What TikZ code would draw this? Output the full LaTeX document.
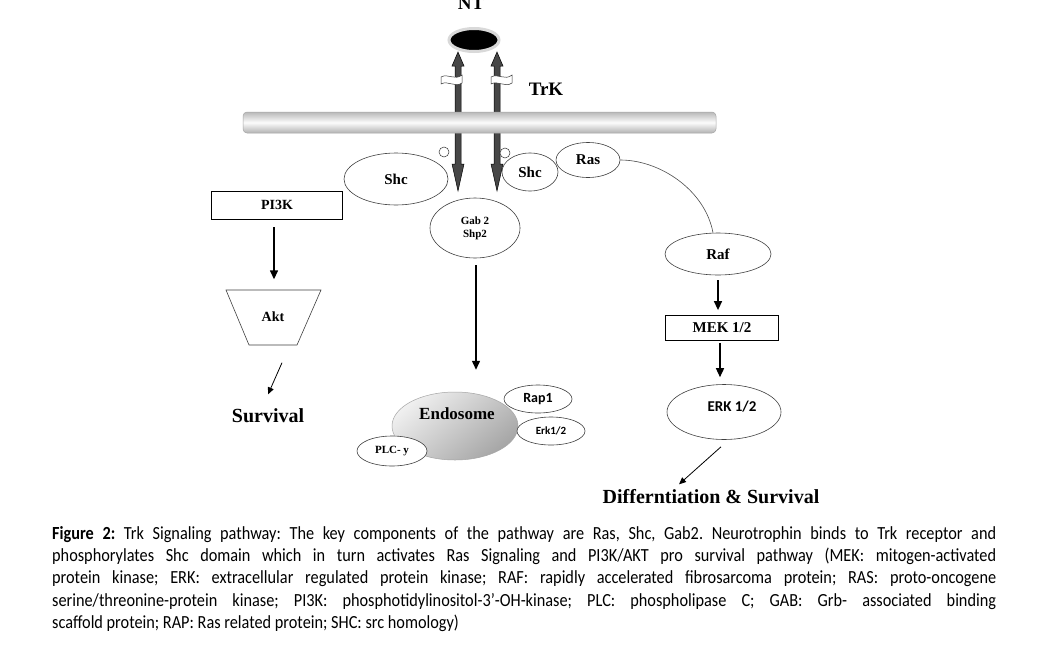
\documentclass[tikz,border=0pt]{standalone}
\usepackage{fontspec}
\setmainfont{Liberation Serif}
\newfontfamily\capfont[FakeStretch=0.88]{Carlito}
\newfontfamily\lblsans{Carlito}
\usetikzlibrary{arrows.meta,shapes.geometric}
\begin{document}
\begin{tikzpicture}[x=1pt,y=-1pt,
  sb/.style={font=\bfseries\fontsize{#1}{#1}\selectfont},
  cb/.style={font=\lblsans\bfseries\fontsize{#1}{#1}\selectfont},
  oval/.style={ellipse, draw=black!75, line width=0.6pt, fill=white, inner sep=0pt},
  box/.style={draw=black, line width=0.8pt, fill=white, inner sep=0pt},
  arr/.style={-{Triangle[length=9pt,width=8pt]}, line width=1.4pt},
  thinarr/.style={-{Triangle[length=7pt,width=6pt]}, line width=0.8pt},
  dbl/.style={fill=black!72, draw=black, line width=0.5pt},
  ribbon/.style={fill=white, draw=black!80, line width=0.5pt}]
\useasboundingbox (0,0) rectangle (1056,648);
\fill[white] (0,0) rectangle (1056,648);

% NT label (cut at top)
\node[sb=19] (nt) at (471,3) {NT};

% double arrows of the receptor
\foreach \cx in {458,497}{
  \path[dbl] (\cx,52) -- (\cx+6,66) -- (\cx+3,66) -- (\cx+3,164) -- (\cx+6,164) -- (\cx,191)
     -- (\cx-6,164) -- (\cx-3,164) -- (\cx-3,66) -- (\cx-6,66) -- cycle;
}
% ribbons
\path[ribbon] (441,77) .. controls (448,73) and (455,81) .. (462,75) -- (462,83)
   .. controls (455,88) and (448,80) .. (441,84) -- cycle;
\path[ribbon] (491,77) .. controls (498,73) and (505,81) .. (512,75) -- (512,83)
   .. controls (505,88) and (498,80) .. (491,84) -- cycle;

% ligand
\node[ellipse, fill=black, draw=gray!30, line width=3pt, minimum width=50pt, minimum height=23pt, inner sep=0pt] (lig) at (474,40) {};

% TrK label
\node[sb=19] (trk) at (546,89) {TrK};

% membrane
\shade[top color=gray!55, bottom color=gray!60, middle color=gray!3, draw=gray!70, line width=0.5pt, rounded corners=4pt]
  (243,112) rectangle (716,133);

% small circles
\draw[black!80, line width=0.5pt, fill=white] (444,152) circle (5);
\draw[black!80, line width=0.5pt, fill=white] (505,153) circle (5);

% ovals
\node[oval, minimum width=104pt, minimum height=52pt, sb=15] (shcL) at (396,179) {Shc};
\node[oval, minimum width=56pt, minimum height=38pt, sb=15] (shcR) at (530,172) {Shc};
\node[oval, minimum width=64pt, minimum height=35pt, sb=15] (ras) at (588,160) {Ras};
\node[oval, minimum width=90pt, minimum height=60pt, sb=11, align=center] (gab) at (475,228) {Gab 2\\[2pt]Shp2};

% PI3K / Akt
\node[box, minimum width=131pt, minimum height=28pt, sb=14] (pi3k) at (277,205) {PI3K};
\draw[black!75, line width=0.6pt] (226,290) -- (321,290) -- (297,345) -- (249,345) -- cycle;
\node[minimum width=95pt, minimum height=55pt, inner sep=0pt, sb=14] (akt) at (273,317) {Akt};
\draw[arr] ([xshift=-3pt,yshift=-8pt]pi3k.south) -- ([xshift=1pt,yshift=10pt]akt.north);
\node[sb=20] (surv) at (268,416) {Survival};
\draw[thinarr] ([xshift=9pt,yshift=-18pt]akt.south) -- ([yshift=11pt]surv.north);

% Endosome group
\node[ellipse, draw=gray!70, line width=0.5pt, minimum width=126pt, minimum height=68pt, inner sep=0pt,
  top color=gray!12, bottom color=gray!70, shading angle=40] (endo) at (455,426) {};
\node[sb=17] (endotxt) at (457,414) {Endosome};
\node[oval, minimum width=68pt, minimum height=28pt, cb=14] (rap) at (538,399) {Rap1};
\node[oval, minimum width=68pt, minimum height=28pt, cb=11] (erkS) at (551,431) {Erk1/2};
\node[oval, minimum width=70pt, minimum height=30pt, sb=11] (plc) at (392,451) {PLC- y};
\draw[arr] ([xshift=1pt,yshift=-7pt]gab.south) -- ([xshift=21pt,yshift=22pt]endo.north);

% Right branch
\node[oval, minimum width=106pt, minimum height=42pt, sb=15] (raf) at (718,254) {Raf};
\draw[black!70, line width=0.6pt] (ras.east) .. controls (660,160) and (705,190) .. ([xshift=-5pt]raf.north);
\node[box, minimum width=113pt, minimum height=25pt, sb=15] (mek) at (722,328) {MEK 1/2};
\draw[arr] ([yshift=-5pt]raf.south) -- ([yshift=5pt]raf.south |- mek.north);
\node[oval, minimum width=114pt, minimum height=55pt] (erk) at (724,412) {};
\node[cb=15] (erktxt) at (732,407) {ERK 1/2};
\draw[arr] ([xshift=-2pt,yshift=-2pt]mek.south) -- ([xshift=-4pt,yshift=7pt]erk.north);
\node[sb=20] (diff) at (711,497) {Differntiation \& Survival};
\draw[thinarr] ([xshift=-3pt,yshift=-7pt]erk.south) -- ([xshift=-32pt,yshift=2pt]diff.north);

% Caption
\node[anchor=north west, text width=944pt, align=justify, inner sep=0pt,
  font=\capfont\fontsize{18.5}{22.4}\selectfont] (cap) at (52,526)
{\frenchspacing\hyphenpenalty=10000\exhyphenpenalty=10000\textbf{Figure 2:} Trk Signaling pathway: The key components of the pathway are Ras, Shc, Gab2. Neurotrophin binds to Trk receptor and\linebreak
phosphorylates Shc domain which in turn activates Ras Signaling and PI3K/AKT pro survival pathway (MEK: mitogen-activated\linebreak
protein kinase; ERK: extracellular regulated protein kinase; RAF: rapidly accelerated fibrosarcoma protein; RAS: proto-oncogene\linebreak
serine/threonine-protein kinase; PI3K: phosphotidylinositol-3’-OH-kinase; PLC: phospholipase C; GAB: Grb- associated binding\linebreak
scaffold protein; RAP: Ras related protein; SHC: src homology)};
\end{tikzpicture}
\end{document}
